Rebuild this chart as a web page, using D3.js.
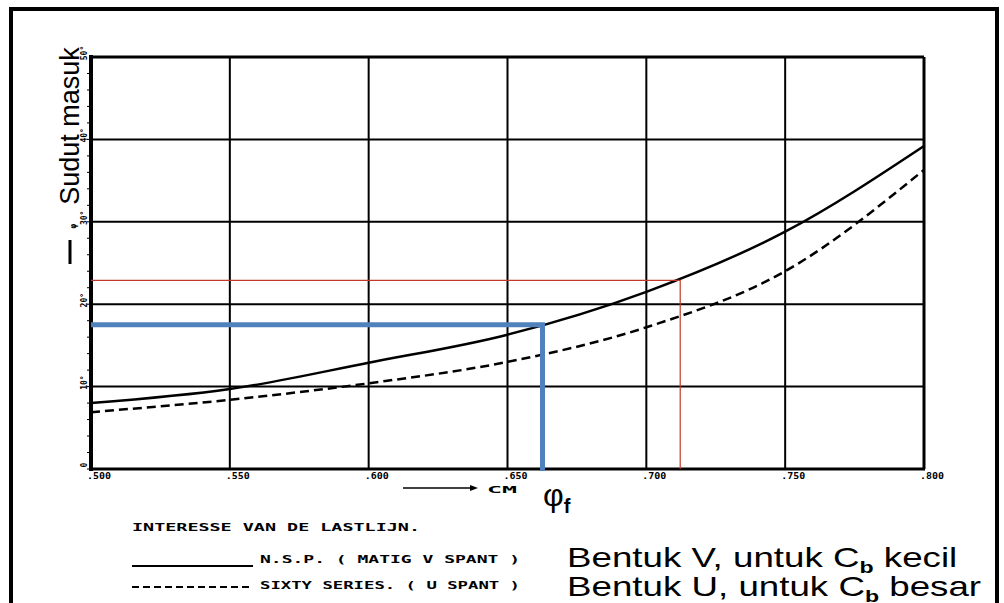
<!DOCTYPE html>
<html>
<head>
<meta charset="utf-8">
<script src="https://cdn.jsdelivr.net/npm/d3@7"></script>
<style>
  body { margin: 0; background: #fff; }
  .tiny { font-family: "DejaVu Sans Mono", monospace; font-weight: bold; font-size: 8px; fill: #000; }
  .legend { font-family: "DejaVu Sans Mono", monospace; font-weight: bold; font-size: 10px; fill: #000; }
  .big { font-family: "Liberation Sans", Arial, sans-serif; fill: #000; }
</style>
</head>
<body>
<svg width="1004" height="603"></svg>
<script>
// prismatic coefficient values along x
const cpValues = [0.50, 0.55, 0.60, 0.65, 0.70, 0.75, 0.80]
const xTickLabels = ['.500', '.550', '.600', '.650', '.700', '.750', '.800']
// half angle of entrance (degrees)
const yTicks = [0, 10, 20, 30, 40, 50]
const yTickLabels = ['0', '10°', '20°', '30°', '40°', '50°']
const vShape = [8.0, 9.7, 12.9, 16.3, 21.5, 28.8, 39.2]   // solid: N.S.P. (matig V spant)
const uShape = [6.9, 8.4, 10.4, 13.0, 17.2, 24.0, 36.3]   // dashed: sixty series (U spant)
// reading lines
const blueRead = {cp: 0.6626, angle: 17.5}
const redRead = {cp: 0.7122, angle: 22.9}
const legendRows = ['N.S.P. ( MATIG V SPANT )', 'SIXTY SERIES. ( U SPANT )']
const notes = [['Bentuk V, untuk C', 'b', ' kecil'], ['Bentuk U, untuk C', 'b', ' besar']]

const svg = d3.select('svg')

const x = d3.scaleLinear().domain([0.50, 0.80]).range([91, 924])
const y = d3.scaleLinear().domain([0, 50]).range([469, 57])

// outer frame
svg.append('rect')
  .attr('x', 11).attr('y', 9).attr('width', 986).attr('height', 600)
  .attr('fill', 'none').attr('stroke', '#000').attr('stroke-width', 4)

// grid
svg.selectAll('.vgrid')
  .data(cpValues)
  .enter()
  .append('line')
  .attr('x1', d => x(d)).attr('x2', d => x(d))
  .attr('y1', y(50)).attr('y2', y(0))
  .attr('stroke', '#000').attr('stroke-width', 2)

svg.selectAll('.hgrid')
  .data(yTicks)
  .enter()
  .append('line')
  .attr('x1', x(0.5)).attr('x2', x(0.8))
  .attr('y1', d => y(d)).attr('y2', d => y(d))
  .attr('stroke', '#000').attr('stroke-width', 2)

// axes heavier
svg.append('line').attr('x1', x(0.5)).attr('x2', x(0.5)).attr('y1', y(50) - 2).attr('y2', y(0) + 2)
  .attr('stroke', '#000').attr('stroke-width', 4)
svg.append('line').attr('x1', x(0.5)).attr('x2', x(0.8) + 1).attr('y1', y(0)).attr('y2', y(0))
  .attr('stroke', '#000').attr('stroke-width', 3)
svg.append('line').attr('x1', x(0.8)).attr('x2', x(0.8)).attr('y1', y(50)).attr('y2', y(0))
  .attr('stroke', '#000').attr('stroke-width', 3)
svg.append('line').attr('x1', x(0.5)).attr('x2', x(0.8)).attr('y1', y(50)).attr('y2', y(50))
  .attr('stroke', '#000').attr('stroke-width', 3)

// minor ticks on left axis
svg.selectAll('.minor')
  .data(d3.range(0, 50, 2))
  .enter()
  .append('line')
  .attr('x1', x(0.5) - 4).attr('x2', x(0.5))
  .attr('y1', d => y(d)).attr('y2', d => y(d))
  .attr('stroke', '#000').attr('stroke-width', 1)

// tick labels
svg.selectAll('.xlab')
  .data(cpValues)
  .enter()
  .append('text')
  .attr('class', 'tiny')
  .attr('x', d => x(d) + 8).attr('y', 479)
  .attr('text-anchor', 'middle')
  .attr('textLength', 24).attr('lengthAdjust', 'spacingAndGlyphs')
  .text((d, i) => xTickLabels[i])

svg.selectAll('.ylab')
  .data(yTicks)
  .enter()
  .append('text')
  .attr('class', 'tiny')
  .attr('transform', d => `translate(${x(0.5) - 4},${y(d) - 4}) rotate(-90)`)
  .attr('text-anchor', 'middle')
  .text((d, i) => yTickLabels[i])

// curves
const line = d3.line()
  .x((d, i) => x(cpValues[i]))
  .y(d => y(d))
  .curve(d3.curveMonotoneX)

svg.append('path').attr('d', line(vShape))
  .attr('fill', 'none').attr('stroke', '#000').attr('stroke-width', 2.5)
svg.append('path').attr('d', line(uShape))
  .attr('fill', 'none').attr('stroke', '#000').attr('stroke-width', 2.5)
  .attr('stroke-dasharray', '9,5')

// reading lines
svg.append('path')
  .attr('d', `M${x(0.5)},${y(redRead.angle)}H${x(redRead.cp)}V${y(0)}`)
  .attr('fill', 'none').attr('stroke', '#c0392b').attr('stroke-width', 1.2)
svg.append('path')
  .attr('d', `M${x(0.5)},${y(blueRead.angle)}H${x(blueRead.cp)}V${y(0) + 2}`)
  .attr('fill', 'none').attr('stroke', '#4f81bd').attr('stroke-width', 5)

// y-axis title
svg.append('text').attr('class', 'big')
  .attr('transform', 'translate(79,126) rotate(-90)')
  .attr('text-anchor', 'middle')
  .attr('font-size', 27)
  .text('Sudut masuk')
svg.append('line').attr('x1', 70).attr('x2', 70).attr('y1', 240).attr('y2', 264)
  .attr('stroke', '#000').attr('stroke-width', 3)
svg.append('text').attr('class', 'tiny')
  .attr('transform', 'translate(76,226) rotate(-90)')
  .attr('text-anchor', 'middle')
  .text('φ')

// x-axis mini label
svg.append('line').attr('x1', 403).attr('x2', 472).attr('y1', 488).attr('y2', 488)
  .attr('stroke', '#000').attr('stroke-width', 1.5)
svg.append('path').attr('d', 'M470,485L478,488L470,491Z').attr('fill', '#000')
svg.append('text').attr('class', 'tiny').attr('x', 487).attr('y', 493).attr('font-size', 12)
  .attr('textLength', 30).attr('lengthAdjust', 'spacingAndGlyphs').text('CM')

// phi_f
const phi = svg.append('text').attr('class', 'big').attr('x', 543).attr('y', 506).attr('font-size', 32)
phi.append('tspan').text('φ')
phi.append('tspan').attr('font-size', 20).attr('font-weight', 'bold').attr('dy', 7).text('f')

// legend
svg.append('text').attr('class', 'legend').attr('x', 132).attr('y', 531)
  .attr('textLength', 288).attr('lengthAdjust', 'spacingAndGlyphs')
  .text('INTERESSE VAN DE LASTLIJN.')
svg.append('line').attr('x1', 132).attr('x2', 253).attr('y1', 566).attr('y2', 566)
  .attr('stroke', '#000').attr('stroke-width', 2)
svg.append('line').attr('x1', 132).attr('x2', 253).attr('y1', 587).attr('y2', 587)
  .attr('stroke', '#000').attr('stroke-width', 2).attr('stroke-dasharray', '7,4')
legendRows.forEach((r, i) => {
  svg.append('text').attr('class', 'legend').attr('x', 260).attr('y', 563 + i * 26)
    .attr('textLength', 260).attr('lengthAdjust', 'spacingAndGlyphs')
    .text(r)
})

// notes, stretched horizontally like the source image
notes.forEach((n, i) => {
  const t = svg.append('text').attr('class', 'big').attr('font-size', 27)
  t.append('tspan').text(n[0])
  t.append('tspan').attr('font-size', 17).attr('font-weight', 'bold').attr('dy', 6).text(n[1])
  t.append('tspan').attr('dy', -6).text(n[2])
  t.attr('transform', `translate(567,${567 + i * 29}) scale(1.36,1)`)
})
</script>
</body>
</html>
